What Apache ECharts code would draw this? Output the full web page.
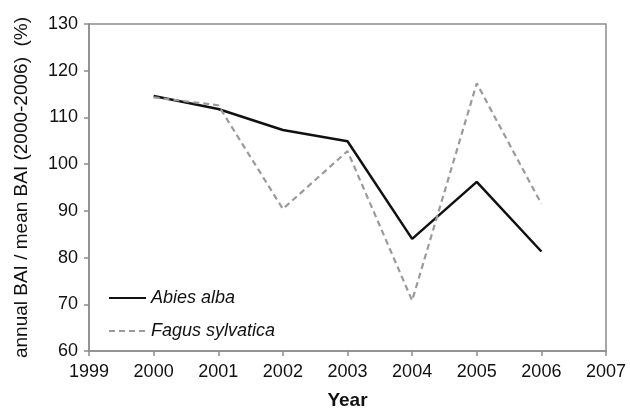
<!DOCTYPE html>
<html>
<head>
<meta charset="utf-8">
<script src="https://cdn.jsdelivr.net/npm/echarts@6/dist/echarts.min.js"></script>
<style>
  html, body { margin: 0; padding: 0; background: #fff; }
  #chart { width: 630px; height: 410px; }
</style>
</head>
<body>
<div id="chart"></div>
<script>
// Basal area increment relative to the 2000-2006 mean
const years = [2000, 2001, 2002, 2003, 2004, 2005, 2006];
const abiesAlba = [114.6, 111.8, 107.3, 104.9, 84.0, 96.2, 81.3];
const fagusSylvatica = [114.3, 112.6, 90.4, 102.8, 70.8, 117.3, 91.5];
const yTicks = [60, 70, 80, 90, 100, 110, 120, 130];
const xTicks = [1999, 2000, 2001, 2002, 2003, 2004, 2005, 2006, 2007];

const font = 'Liberation Sans, Arial, sans-serif';
const pair = (xs, ys) => xs.map((x, i) => [x, ys[i]]);

const chart = echarts.init(document.getElementById('chart'), null, { renderer: 'canvas' });
chart.setOption({
  animation: false,
  backgroundColor: '#fff',
  grid: {
    left: 89, right: 24, top: 24, bottom: 59,
    outerBoundsMode: 'none',
    show: true, borderColor: '#8c8c8c', borderWidth: 1.5, backgroundColor: 'transparent'
  },
  legend: {
    orient: 'vertical',
    left: 103, top: 284,
    itemWidth: 37, itemHeight: 20, itemGap: 15,
    itemStyle: { opacity: 0 },
    textStyle: { fontFamily: font, fontSize: 18, fontStyle: 'italic', color: '#111' },
    data: ['Abies alba', 'Fagus sylvatica']
  },
  xAxis: {
    type: 'value',
    min: xTicks[0], max: xTicks[xTicks.length - 1], interval: 1,
    name: 'Year', nameLocation: 'middle', nameGap: 40,
    nameTextStyle: { fontFamily: font, fontSize: 19, fontWeight: 'bold', color: '#111' },
    axisLine: { show: true, lineStyle: { color: '#8c8c8c', width: 1.5 } },
    axisTick: { show: true, inside: false, length: 5, lineStyle: { color: '#8c8c8c', width: 1.5 } },
    axisLabel: { fontFamily: font, fontSize: 18, color: '#111', margin: 12, formatter: v => String(v) },
    splitLine: { show: false }
  },
  yAxis: {
    type: 'value',
    min: yTicks[0], max: yTicks[yTicks.length - 1], interval: 10,
    name: 'annual BAI / mean BAI (2000-2006)  (%)', nameLocation: 'middle', nameGap: 58,
    nameTextStyle: { fontFamily: font, fontSize: 19, color: '#111' },
    axisLine: { show: true, lineStyle: { color: '#8c8c8c', width: 1.5 } },
    axisTick: { show: true, inside: false, length: 5, lineStyle: { color: '#8c8c8c', width: 1.5 } },
    axisLabel: { fontFamily: font, fontSize: 18, color: '#111', margin: 11 },
    splitLine: { show: false }
  },
  series: [
    {
      name: 'Abies alba', type: 'line', symbol: 'none',
      data: pair(years, abiesAlba),
      lineStyle: { color: '#111', width: 2.5, type: 'solid' },
      itemStyle: { color: '#111' }
    },
    {
      name: 'Fagus sylvatica', type: 'line', symbol: 'none',
      data: pair(years, fagusSylvatica),
      lineStyle: { color: '#9a9a9a', width: 2.2, type: [6, 4] },
      itemStyle: { color: '#9a9a9a' }
    }
  ]
});
</script>
</body>
</html>
